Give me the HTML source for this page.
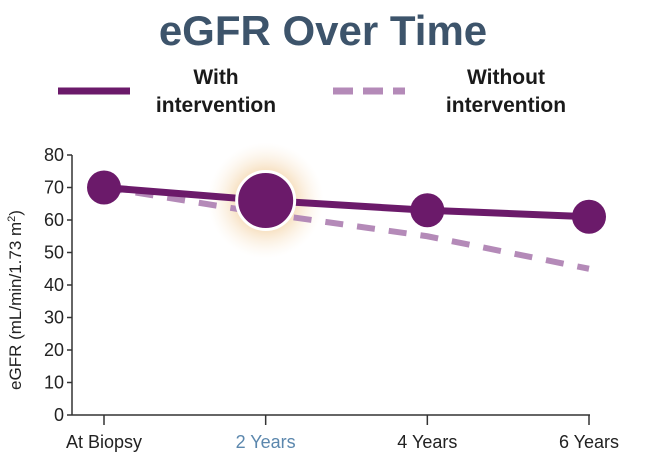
<!DOCTYPE html>
<html><head><meta charset="utf-8"><style>
body{margin:0;width:646px;height:464px;background:#fff;overflow:hidden;font-family:"Liberation Sans",sans-serif}
</style></head><body>
<svg width="646" height="464">
<defs><radialGradient id="glow"><stop offset="0.45" stop-color="#f3d2a4" stop-opacity="0.8"/><stop offset="1" stop-color="#fbeedd" stop-opacity="0"/></radialGradient></defs>
<text x="323" y="45" text-anchor="middle" font-size="42" font-weight="bold" fill="#3d546b">eGFR Over Time</text>
<g>
<line x1="58" y1="91" x2="130" y2="91" stroke="#6b1a6a" stroke-width="7"/>
<text x="216" y="84" text-anchor="middle" font-size="21" font-weight="bold" fill="#1a1a1a"><tspan x="216">With</tspan><tspan x="216" dy="28">intervention</tspan></text>
<line x1="333" y1="91" x2="405" y2="91" stroke="#b48ab8" stroke-width="7" stroke-dasharray="20 10"/>
<text x="506" y="84" text-anchor="middle" font-size="21" font-weight="bold" fill="#1a1a1a"><tspan x="506">Without</tspan><tspan x="506" dy="28">intervention</tspan></text>
</g>
<g id="plot"></g>
</svg>
<script>
const categories=["At Biopsy","2 Years","4 Years","6 Years"];
const withValues=[70,66,63,61];
const withoutValues=[70,62,55,45];
const yTicks=[0,10,20,30,40,50,60,70,80];
const highlightIndex=1;
const NS="http://www.w3.org/2000/svg";
const g=document.getElementById("plot");
const X0=104,X1=589,Y0=415,Y80=155,AX=72;
function xs(i){return X0+(X1-X0)*i/(categories.length-1);}
function ys(v){return Y0+(Y80-Y0)*v/80;}
function mk(t,a){const e=document.createElementNS(NS,t);for(const k in a)e.setAttribute(k,a[k]);g.appendChild(e);return e;}
let e;
e=mk("line",{x1:AX,y1:ys(80),x2:AX,y2:Y0,stroke:"#333","stroke-width":1.5});


e=mk("line",{x1:AX,y1:Y0,x2:X1+1,y2:Y0,stroke:"#333","stroke-width":1.5});


yTicks.forEach(v=>{
 e=mk("line",{x1:AX-5,y1:ys(v),x2:AX,y2:ys(v),stroke:"#333","stroke-width":1.5});
 
 
 e=mk("text",{x:AX-8,y:ys(v)+6,"text-anchor":"end","font-size":18,fill:"#222"});e.textContent=v;
 
 
});
categories.forEach((c,i)=>{
 e=mk("line",{x1:xs(i),y1:Y0,x2:xs(i),y2:Y0+10,stroke:"#333","stroke-width":1.5});
 
 
 e=mk("text",{x:xs(i),y:448,"text-anchor":"middle","font-size":18,fill:i==highlightIndex?"#5b87ad":"#222"});e.textContent=c;
 
 
});
e=mk("text",{transform:"translate(21,300) rotate(-90)","text-anchor":"middle","font-size":17,fill:"#222"});
e.innerHTML='eGFR (mL/min/1.73 m<tspan dy="-6" font-size="11">2</tspan><tspan dy="6">)</tspan>';


e=mk("circle",{cx:xs(highlightIndex),cy:ys(withValues[highlightIndex]),r:58,fill:"url(#glow)"});


e=mk("polyline",{points:withoutValues.map((v,i)=>xs(i)+","+ys(v)).join(" "),fill:"none",stroke:"#b48ab8","stroke-width":6,"stroke-dasharray":"18 14"});


e=mk("polyline",{points:withValues.map((v,i)=>xs(i)+","+ys(v)).join(" "),fill:"none",stroke:"#6b1a6a","stroke-width":7});


withValues.forEach((v,i)=>{
 const hl=i==highlightIndex;
 e=mk("circle",{cx:xs(i),cy:ys(v),r:hl?29:17,fill:"#6b1a6a",stroke:hl?"#fff":"none","stroke-width":hl?3:0});
 
 
});
</script>
</body></html>
